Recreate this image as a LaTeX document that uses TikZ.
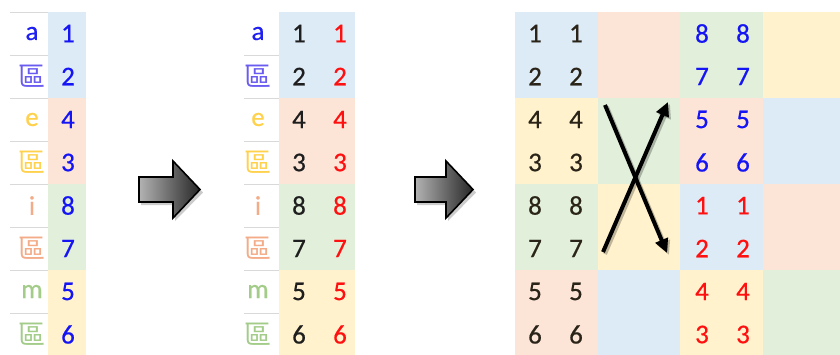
\documentclass[tikz,border=0pt]{standalone}
\usepackage{fontspec}
\setmainfont{Carlito}
\newfontfamily\cellfont[FakeBold=0.5]{Carlito}
\newfontfamily\cjk{Noto Sans CJK TC}
\usetikzlibrary{arrows.meta}
\definecolor{bluebg}{HTML}{DDEBF7}
\definecolor{orangebg}{HTML}{FCE4D6}
\definecolor{greenbg}{HTML}{E2EFDA}
\definecolor{goldbg}{HTML}{FFF2CC}
\definecolor{digitblue}{HTML}{1414F5}
\definecolor{digitred}{HTML}{FF1010}
\definecolor{digitblack}{HTML}{1E1E1E}
\definecolor{darkdigit}{HTML}{2A2418}
\definecolor{rule}{HTML}{D9D9D9}
\definecolor{letblue}{HTML}{2020F0}
\definecolor{letviolet}{HTML}{6A5CF0}
\definecolor{letgold}{HTML}{FFD24D}
\definecolor{letorange}{HTML}{F4AC88}
\definecolor{letgreen}{HTML}{A2CC88}
\tikzset{
  digit/.style={font=\cellfont\fontsize{27}{30}\selectfont,inner sep=0pt},
  letter/.style={font=\cellfont\fontsize{27}{30}\selectfont,inner sep=0pt},
  rowrule/.style={draw=rule,line width=1pt},
  crossarr/.style={-{Triangle[length=14pt,width=13pt]},line width=4pt,color=black},
  crossshadow/.style={-{Triangle[length=14pt,width=13pt]},line width=4pt,color=black,opacity=0.25},
  bigarr/.style={draw=black,line width=1.6pt,left color=black!30,right color=black!85}
}
\begin{document}
\begin{tikzpicture}[x=1pt,y=-1pt]
  \useasboundingbox (0,0) rectangle (840,354);
  \fill[white] (0,0) rectangle (840,354);

  % left and middle tables
  \foreach \c [count=\k from 0] in {bluebg,orangebg,greenbg,goldbg} {
    \fill[\c] (48,{12+86*\k}) rectangle (86,{98+86*\k});
    \fill[\c] (279,{12+86*\k}) rectangle (355,{98+86*\k});
  }
  \foreach \k in {0,...,7} {
    \draw[rowrule] (10,{12+43*\k}) -- (48,{12+43*\k});
  }
  \foreach \k in {1,...,7} {
    \draw[rowrule] (244,{12+43*\k}) -- (279,{12+43*\k});
  }
  \foreach \t/\c [count=\r from 0] in {a/letblue,{\cjk 區}/letviolet,e/letgold,{\cjk 區}/letgold,
                                       i/letorange,{\cjk 區}/letorange,m/letgreen,{\cjk 區}/letgreen} {
    \node[letter,text=\c] (la\r) at (32,{33.5+43*\r}) {\t};
    \node[letter,text=\c] (ma\r) at (258,{33.5+43*\r}) {\t};
  }
  \foreach \d [count=\r from 0] in {1,2,4,3,8,7,5,6} {
    \node[digit,text=digitblue] (ld\r) at (68,{33.5+43*\r}) {\d};
    \node[digit,text=digitblack] (mk\r) at (299,{33.5+43*\r}) {\d};
    \node[digit,text=digitred] (mr\r) at (340,{33.5+43*\r}) {\d};
  }

  % big arrows
  \foreach \x/\b/\t in {139/173/200,415/446/473} {
    \fill[black,opacity=0.2] (\x+2,180) -- (\b+2,180) -- (\b+2,164) -- (\t+3,192.5)
      -- (\b+2,221) -- (\b+2,205) -- (\x+2,205) -- cycle;
    \shade[bigarr] (\x,177) -- (\b,177) -- (\b,161) -- (\t,189.5)
      -- (\b,218) -- (\b,202) -- (\x,202) -- cycle;
  }

  % right grid
  \foreach \row [count=\r from 0] in {{bluebg,orangebg,greenbg,goldbg},
                                      {goldbg,greenbg,orangebg,bluebg},
                                      {greenbg,goldbg,bluebg,orangebg},
                                      {orangebg,bluebg,goldbg,greenbg}} {
    \foreach \c [count=\q from 0] in \row {
      \fill[\c] ({515+82.5*\q},{12+86*\r}) rectangle ({597.5+82.5*\q},{98+86*\r});
    }
  }
  \foreach \d/\e [count=\r from 0] in {1/8,2/7,4/5,3/6,8/1,7/2,5/4,6/3} {
    \pgfmathsetmacro\ecol{\r<4 ? "digitblue" : "digitred"}
    \node[digit,text=darkdigit] (ra\r) at (535,{33.5+43*\r}) {\d};
    \node[digit,text=darkdigit] (rb\r) at (576,{33.5+43*\r}) {\d};
    \node[digit,text=\ecol] (rc\r) at (702,{33.5+43*\r}) {\e};
    \node[digit,text=\ecol] (rd\r) at (743,{33.5+43*\r}) {\e};
  }

  % crossing arrows
  \coordinate (downfrom) at (605,105);
  \coordinate (downto) at (667,253);
  \coordinate (upfrom) at (603,252);
  \coordinate (upto) at (668,102);
  \draw[crossshadow] ([shift={(2,2)}]downfrom) -- ([shift={(2,2)}]downto);
  \draw[crossshadow] ([shift={(2,2)}]upfrom) -- ([shift={(2,2)}]upto);
  \draw[crossarr] (downfrom) -- (downto);
  \draw[crossarr] (upfrom) -- (upto);
\end{tikzpicture}
\end{document}
